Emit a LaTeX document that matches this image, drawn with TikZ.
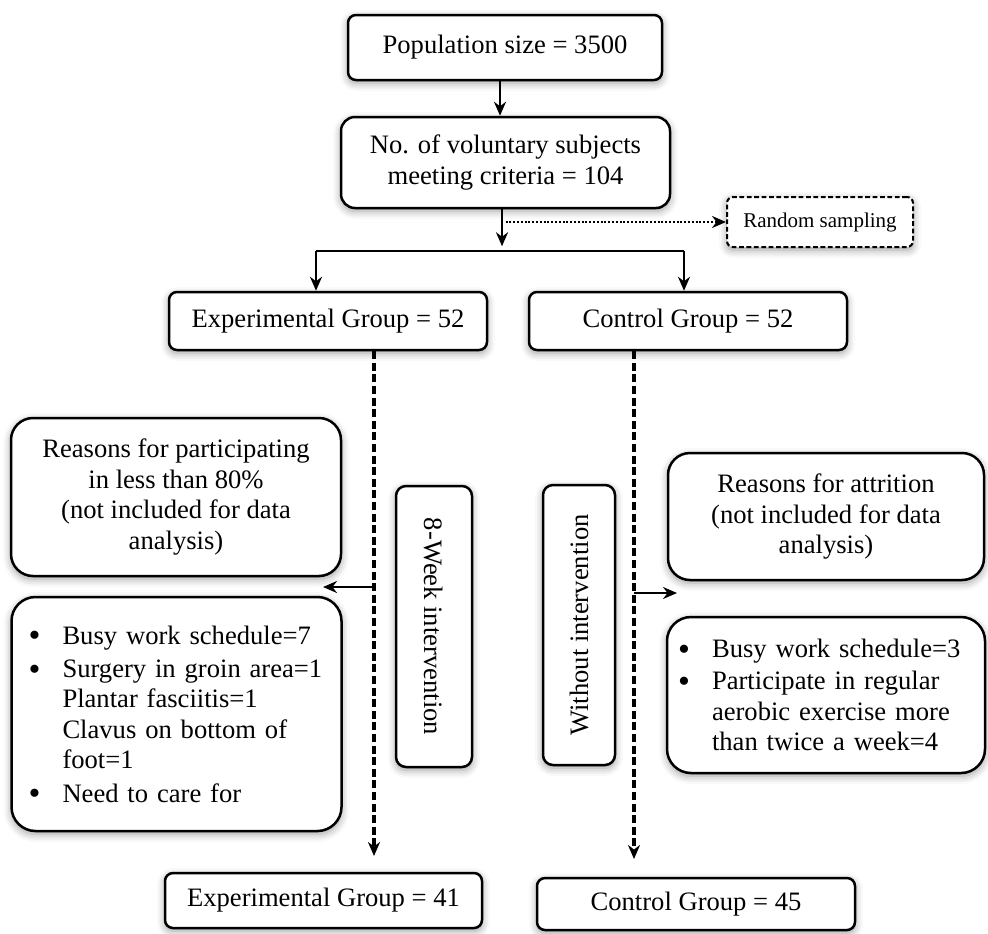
\documentclass[tikz,border=0pt]{standalone}
\usepackage{fontspec}
\setmainfont{Liberation Serif}
\usetikzlibrary{arrows.meta,shadows.blur}

\newcommand{\itm}{\makebox[17pt][l]{\raisebox{-1.4pt}[0pt][0pt]{\fontsize{17}{17}\selectfont\textbullet}}}
\newcommand{\ind}{\hspace*{17pt}}

\begin{document}
\begin{tikzpicture}[x=0.5pt,y=-0.5pt,
  font=\fontsize{13.3}{15.2}\selectfont,
  box/.style={draw, line width=1.25pt, rounded corners=4pt, fill=white, align=center, inner sep=0pt,
    blur shadow={shadow xshift=0pt, shadow yshift=-1.5pt, shadow blur radius=4pt, shadow opacity=40}},
  arr/.style={-{Stealth[length=7pt,width=6pt]}, line width=1.25pt},
  line/.style={line width=1.25pt},
  dasharr/.style={-{Stealth[length=7pt,width=6pt]}, line width=2pt, dash pattern=on 4pt off 1.8pt},
  dotarr/.style={-{Stealth[length=7pt,width=6pt]}, line width=1.2pt, dash pattern=on 1pt off 0.9pt}]

\useasboundingbox (0,0) rectangle (988,933);

% Top
\node[box, minimum width=157pt, minimum height=32.5pt] (pop) at (505,47.5) {Population size = 3500};
\node[box, rounded corners=7pt, minimum width=164.5pt, minimum height=45.5pt] (vol) at (505.5,162.5) {No. of voluntary subjects\\meeting criteria = 104};
\node[box, rounded corners=3pt, line width=1pt, dash pattern=on 2.4pt off 1.3pt, minimum width=93pt, minimum height=25pt,
  font=\fontsize{10.5}{12}\selectfont] (rand) at (820,222) {Random sampling};

% Groups
\node[box, minimum width=159pt, minimum height=29pt] (exp) at (328,321) {Experimental Group = 52};
\node[box, minimum width=159pt, minimum height=29pt] (ctrl) at (688,321) {Control Group = 52};

% Left side
\node[box, rounded corners=11pt, minimum width=165pt, minimum height=79pt] (whyL) at (176,497)
  {Reasons for participating\\in less than 80\%\\(not included for data\\analysis)};
\node[box, rounded corners=12pt, minimum width=165pt, minimum height=117pt, text width=148pt, align=left] (listL) at (176.5,714)
  {\itm Busy work schedule=7\\[1.5pt]
   \itm Surgery in groin area=1\\
   \ind Plantar fasciitis=1\\
   \ind Clavus on bottom of\\
   \ind foot=1\\[1.5pt]
   \itm Need to care for};
\node[box, rotate=-90, rounded corners=5pt, minimum width=140.5pt, minimum height=38pt] (week) at (434,626.5) {8-Week intervention};

% Right side
\node[box, rotate=90, rounded corners=5pt, minimum width=140pt, minimum height=36pt] (wo) at (579,625) {Without intervention};
\node[box, rounded corners=11pt, minimum width=158pt, minimum height=63.5pt] (whyR) at (826,516.5)
  {Reasons for attrition\\(not included for data\\analysis)};
\node[box, rounded corners=12pt, minimum width=159pt, minimum height=78pt, text width=148pt, align=left] (listR) at (826,695)
  {\itm Busy work schedule=3\\[1pt]
   \itm Participate in regular\\
   \ind aerobic exercise more\\
   \ind than twice a week=4};

% Bottom
\node[box, minimum width=158.5pt, minimum height=27.5pt] (exp2) at (323.5,900.5) {Experimental Group = 41};
\node[box, minimum width=159pt, minimum height=26pt] (ctrl2) at (696,904) {Control Group = 45};

% Connectors
\coordinate (jl) at (316,251);
\coordinate (jr) at (684,251);
\coordinate (eEnd) at (374,856);
\coordinate (cEnd) at (634,859);
\coordinate (lTip) at (323,587);
\coordinate (rTip) at (677,593);

\draw[arr] ([xshift=-2.5pt]pop.south) -- ([xshift=-2.5pt]pop.south |- vol.north);
\draw[arr] ([xshift=-1.75pt]vol.south) -- ++(0,37);
\draw[dotarr] (rand.west -| vol.south) -- (rand.west);
\draw[line] (jl) -- (jr);
\draw[arr] (jl) -- (jl |- exp.north);
\draw[arr] (jr) -- (jr |- ctrl.north);

\draw[dasharr] (eEnd |- exp.south) -- (eEnd);
\draw[dasharr] (cEnd |- ctrl.south) -- (cEnd);
\draw[arr] (eEnd |- lTip) -- (lTip);
\draw[arr] (cEnd |- rTip) -- (rTip);

\end{tikzpicture}
\end{document}
